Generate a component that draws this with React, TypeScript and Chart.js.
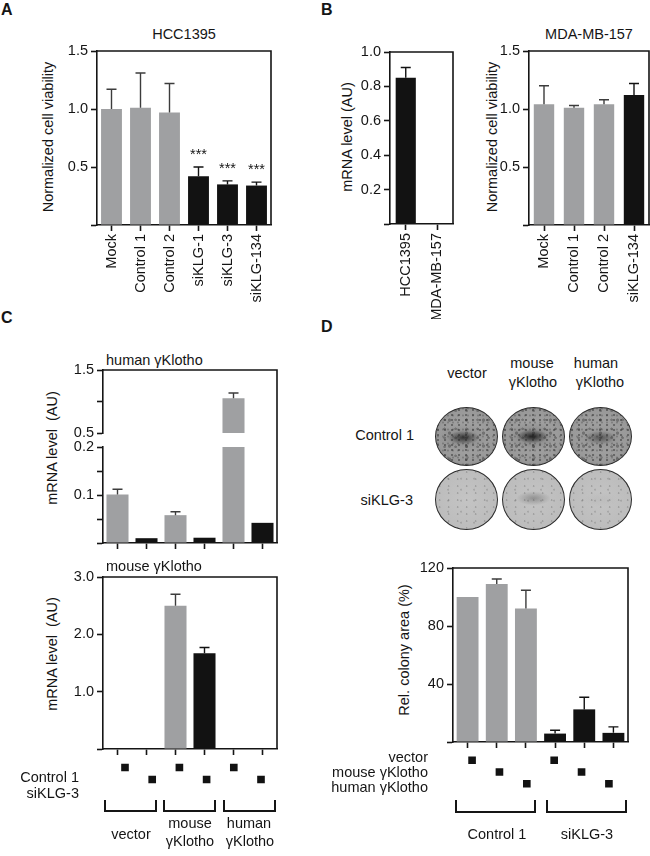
import React, { useEffect, useRef } from 'react';
import { Chart, registerables } from 'chart.js';

Chart.register(...registerables);

const FONT = "'Liberation Sans', Arial, Helvetica, sans-serif";
const FS = 14.5;
const GRAY = '#9fa0a2';
const BLACK = '#121212';
const INK = '#151515';
const ERR_GRAY = '#3c3c3c';

// ---------------- Panel A (HCC1395) ----------------
const aCategories = ['Mock', 'Control 1', 'Control 2', 'siKLG-1', 'siKLG-3', 'siKLG-134'];
const aValues = [1.0, 1.01, 0.97, 0.42, 0.35, 0.34];
const aErrors = [0.17, 0.3, 0.25, 0.08, 0.03, 0.03];
const aStars = ['', '', '', '***', '***', '***'];
const aColors = [GRAY, GRAY, GRAY, BLACK, BLACK, BLACK];
const viabilityTicks = [0, 0.5, 1.0, 1.5];
const viabilityLabels = [0.5, 1.0, 1.5];

// ---------------- Panel B left (mRNA) ----------------
const bCategories = ['HCC1395', 'MDA-MB-157'];
const bValues = [0.85, 0];
const bErrors = [0.06, 0];
const bColors = [BLACK, BLACK];
const mrnaTicks = [0, 0.2, 0.4, 0.6, 0.8, 1.0];
const mrnaLabels = [0.2, 0.4, 0.6, 0.8, 1.0];

// ---------------- Panel B right (MDA-MB-157) ----------------
const b2Categories = ['Mock', 'Control 1', 'Control 2', 'siKLG-134'];
const b2Values = [1.04, 1.01, 1.04, 1.12];
const b2Errors = [0.16, 0.02, 0.04, 0.1];
const b2Colors = [GRAY, GRAY, GRAY, BLACK];

// ---------------- Panel C ----------------
const cConditions = [
  'vector / Control 1', 'vector / siKLG-3',
  'mouse γKlotho / Control 1', 'mouse γKlotho / siKLG-3',
  'human γKlotho / Control 1', 'human γKlotho / siKLG-3',
];
const cColors = [GRAY, BLACK, GRAY, BLACK, GRAY, BLACK];
const cHumanValues = [0.101, 0.01, 0.058, 0.011, 1.05, 0.042];
const cHumanErrors = [0.011, 0, 0.007, 0, 0.085, 0];
const cHumanUpperTicks = [0.5, 1.0, 1.5];
const cHumanUpperLabels = [0.5, 1.5];
const cHumanLowerTicks = [0, 0.05, 0.1, 0.15, 0.2];
const cHumanLowerLabels = [0.1, 0.2];
const cMouseValues = [0, 0, 2.5, 1.67, 0, 0];
const cMouseErrors = [0, 0, 0.2, 0.1, 0, 0];
const cMouseTicks = [0, 1, 2, 3];
const cMouseLabels = [1, 2, 3];
const cRowControl1 = [1, 0, 1, 0, 1, 0];
const cRowSiKLG3 = [0, 1, 0, 1, 0, 1];

// ---------------- Panel D ----------------
const dConditions = [
  'Control 1 / vector', 'Control 1 / mouse γKlotho', 'Control 1 / human γKlotho',
  'siKLG-3 / vector', 'siKLG-3 / mouse γKlotho', 'siKLG-3 / human γKlotho',
];
const dColors = [GRAY, GRAY, GRAY, BLACK, BLACK, BLACK];
const dValues = [100, 109, 92, 5.8, 22.5, 6.3];
const dErrors = [0, 3.4, 12.7, 2.3, 8.4, 4.1];
const dTicks = [0, 40, 80, 120];
const dLabels = [40, 80, 120];
const dRowVector = [1, 0, 0, 1, 0, 0];
const dRowMouse = [0, 1, 0, 0, 1, 0];
const dRowHuman = [0, 0, 1, 0, 0, 1];

type BarSpec = {
  left: number; top: number; width: number; height: number;
  padL?: number; padT?: number; padR?: number; padB?: number;
  categories: string[]; values: number[]; errors?: number[]; colors: string[];
  yMin: number; yMax: number; tickValues: number[]; labeledTicks: number[]; decimals: number;
  showXLabels?: boolean; showXAxis?: boolean;
  frameTop?: boolean; frameRight?: boolean; rightExtend?: number;
  barPct: number; stars?: string[];
};

function BarChart(s: BarSpec) {
  const ref = useRef<HTMLCanvasElement | null>(null);
  const padL = s.padL ?? 45;
  const padT = s.padT ?? 12;
  const padR = s.padR ?? 6;
  const padB = s.padB ?? 12;
  const cw = Math.round(padL + s.width + padR);
  const ch = Math.round(padT + s.height + padB);

  useEffect(() => {
    const canvas = ref.current;
    if (!canvas) return;
    const decor = {
      id: 'decor',
      afterDatasetsDraw(chart: any) {
        const { ctx, chartArea } = chart;
        const y = chart.scales.y;
        const meta = chart.getDatasetMeta(0);
        const data = chart.data.datasets[0].data as number[];
        ctx.save();
        ctx.beginPath();
        ctx.rect(chartArea.left, chartArea.top - 2, chartArea.right - chartArea.left, chartArea.bottom - chartArea.top + 2);
        ctx.clip();
        if (s.errors) {
          meta.data.forEach((bar: any, i: number) => {
            const e = s.errors![i];
            if (!e) return;
            const v = data[i];
            const y0 = y.getPixelForValue(v);
            const y1 = y.getPixelForValue(v + e);
            ctx.strokeStyle = s.colors[i] === GRAY ? ERR_GRAY : BLACK;
            ctx.lineWidth = 1.4;
            ctx.beginPath();
            ctx.moveTo(bar.x, y0);
            ctx.lineTo(bar.x, y1);
            ctx.moveTo(bar.x - 5, y1);
            ctx.lineTo(bar.x + 5, y1);
            ctx.stroke();
          });
        }
        ctx.restore();
        if (s.stars) {
          ctx.save();
          ctx.font = `${FS}px ${FONT}`;
          ctx.fillStyle = INK;
          ctx.textAlign = 'center';
          ctx.textBaseline = 'alphabetic';
          meta.data.forEach((bar: any, i: number) => {
            const st = s.stars![i];
            if (!st) return;
            const top = data[i] + (s.errors ? s.errors[i] : 0);
            ctx.fillText(st, bar.x, y.getPixelForValue(top) - 8);
          });
          ctx.restore();
        }
      },
      afterDraw(chart: any) {
        const { ctx, chartArea } = chart;
        ctx.save();
        ctx.strokeStyle = INK;
        ctx.lineWidth = 1.6;
        ctx.beginPath();
        if (s.frameTop) {
          ctx.moveTo(chartArea.left - 0.8, chartArea.top);
          ctx.lineTo(chartArea.right + 0.8, chartArea.top);
        }
        if (s.frameRight) {
          ctx.moveTo(chartArea.right, chartArea.top);
          ctx.lineTo(chartArea.right, chartArea.bottom + (s.rightExtend ?? 0));
        }
        ctx.stroke();
        ctx.restore();
      },
    };
    const fmt = (v: number) => v.toFixed(s.decimals);
    const isLabeled = (v: number) => s.labeledTicks.some((t) => Math.abs(t - v) < 1e-9);
    const chart = new Chart(canvas, {
      type: 'bar',
      data: {
        labels: s.categories,
        datasets: [{
          data: s.values,
          backgroundColor: s.colors,
          borderWidth: 0,
          barPercentage: s.barPct,
          categoryPercentage: 1,
        }],
      },
      options: {
        animation: false,
        responsive: false,
        events: [],
        layout: { padding: { left: 0, top: padT, right: padR, bottom: 0 } },
        plugins: { legend: { display: false }, tooltip: { enabled: false }, title: { display: false } },
        scales: {
          x: {
            type: 'category',
            offset: true,
            afterFit: (sc: any) => { sc.height = padB; sc.paddingLeft = 0; sc.paddingRight = 0; },
            ticks: {
              display: !!s.showXLabels,
              minRotation: 90, maxRotation: 90,
              autoSkip: false,
              padding: 3,
              color: INK,
              font: { family: FONT, size: FS },
            },
            grid: {
              display: !!s.showXAxis,
              drawOnChartArea: false,
              offset: false,
              tickLength: 6,
              tickWidth: 1.6,
              tickColor: INK,
            },
            border: { display: !!s.showXAxis, color: INK, width: 1.6 },
          },
          y: {
            type: 'linear',
            min: s.yMin,
            max: s.yMax,
            afterBuildTicks: (sc: any) => { sc.ticks = s.tickValues.map((v) => ({ value: v })); },
            afterFit: (sc: any) => { sc.width = padL; sc.paddingTop = 0; sc.paddingBottom = 0; },
            ticks: {
              autoSkip: false,
              padding: 3,
              color: INK,
              font: { family: FONT, size: FS },
              callback: (v: any) => (isLabeled(Number(v)) ? fmt(Number(v)) : ''),
            },
            grid: {
              drawOnChartArea: false,
              tickLength: 6,
              tickWidth: 1.6,
              tickColor: INK,
            },
            border: { display: true, color: INK, width: 1.6 },
          },
        },
      },
      plugins: [decor],
    } as any);
    return () => chart.destroy();
  }, []);

  return (
    <canvas
      ref={ref}
      width={cw}
      height={ch}
      style={{ position: 'absolute', left: Math.round(s.left - padL), top: Math.round(s.top - padT), width: cw, height: ch }}
    />
  );
}

type MatrixSpec = { left: number; top: number; width: number; height: number; categories: string[]; rows: number[][] };

function DotMatrix(m: MatrixSpec) {
  const ref = useRef<HTMLCanvasElement | null>(null);
  useEffect(() => {
    const canvas = ref.current;
    if (!canvas) return;
    const points: { x: string; y: number }[] = [];
    m.rows.forEach((row, r) => row.forEach((v, i) => { if (v) points.push({ x: m.categories[i], y: r }); }));
    const chart = new Chart(canvas, {
      type: 'scatter',
      data: {
        labels: m.categories,
        datasets: [{
          data: points,
          pointStyle: 'rect',
          pointRadius: 5.4,
          pointHoverRadius: 5.4,
          backgroundColor: BLACK,
          borderWidth: 0,
        }],
      },
      options: {
        animation: false,
        responsive: false,
        events: [],
        layout: { padding: 0 },
        plugins: { legend: { display: false }, tooltip: { enabled: false } },
        scales: {
          x: { type: 'category', labels: m.categories, offset: true, display: false },
          y: { type: 'linear', min: -0.5, max: m.rows.length - 0.5, reverse: true, display: false },
        },
      },
    } as any);
    return () => chart.destroy();
  }, []);
  return (
    <canvas
      ref={ref}
      width={m.width}
      height={m.height}
      style={{ position: 'absolute', left: m.left, top: m.top, width: m.width, height: m.height }}
    />
  );
}

type LabelProps = { x: number; y: number; text: string; align?: 'left' | 'center' | 'right'; size?: number; bold?: boolean; rotate?: boolean };

function Label({ x, y, text, align = 'center', size = FS, bold = false, rotate = false }: LabelProps) {
  const tx = align === 'center' ? '-50%' : align === 'right' ? '-100%' : '0';
  return (
    <div
      style={{
        position: 'absolute', left: x, top: y,
        transform: `translate(${rotate ? '-50%' : tx}, -50%)${rotate ? ' rotate(-90deg)' : ''}`,
        fontFamily: FONT, fontSize: size, fontWeight: bold ? 'bold' : 'normal',
        lineHeight: 1, whiteSpace: 'pre', color: INK,
      }}
    >
      {text}
    </div>
  );
}

function Bracket({ x1, x2, y1, y2 }: { x1: number; x2: number; y1: number; y2: number }) {
  return (
    <div
      style={{
        position: 'absolute', left: x1, top: y1, width: x2 - x1, height: y2 - y1,
        borderLeft: `2px solid ${INK}`, borderRight: `2px solid ${INK}`, borderBottom: `2px solid ${INK}`,
        boxSizing: 'border-box',
      }}
    />
  );
}

function plateBackground(dark: boolean, blobX: number, blobY: number, blob: number): string {
  if (dark) {
    return [
      `radial-gradient(ellipse 26% 12% at ${blobX}% ${blobY}%, rgba(20,20,20,${blob}), rgba(20,20,20,0))`,
      `radial-gradient(ellipse 40% 25% at ${blobX}% ${blobY}%, rgba(50,50,50,${blob * 0.4}), rgba(50,50,50,0))`,
      'radial-gradient(circle at 30% 40%, rgba(40,40,40,0.45) 0 0.9px, rgba(40,40,40,0) 1.5px) 0 0/7px 5px',
      'radial-gradient(circle at 60% 20%, rgba(45,45,45,0.35) 0 1px, rgba(45,45,45,0) 1.6px) 2px 1px/11px 9px',
      'radial-gradient(circle at 50% 70%, rgba(40,40,40,0.35) 0 1.3px, rgba(40,40,40,0) 2px) 5px 3px/17px 13px',
      'radial-gradient(circle at 20% 50%, rgba(60,60,60,0.3) 0 0.8px, rgba(60,60,60,0) 1.3px) 1px 4px/5px 7px',
      'radial-gradient(ellipse at 50% 50%, #a6a6a6 0%, #999999 65%, #6e6e6e 100%)',
    ].join(', ');
  }
  return [
    `radial-gradient(ellipse 28% 12% at ${blobX}% ${blobY}%, rgba(50,50,50,${blob}), rgba(50,50,50,0))`,
    'radial-gradient(circle at 40% 30%, rgba(90,90,90,0.3) 0 0.7px, rgba(90,90,90,0) 1.2px) 0 0/9px 7px',
    'radial-gradient(circle at 70% 60%, rgba(90,90,90,0.25) 0 0.8px, rgba(90,90,90,0) 1.3px) 3px 2px/13px 11px',
    'radial-gradient(ellipse at 50% 50%, #c4c4c4 0%, #bcbcbc 75%, #a2a2a2 100%)',
  ].join(', ');
}

function Plate({ x, y, w, h, dark, blobX, blobY, blob }: { x: number; y: number; w: number; h: number; dark: boolean; blobX: number; blobY: number; blob: number }) {
  return (
    <div
      style={{
        position: 'absolute', left: x, top: y, width: w, height: h, borderRadius: '50%',
        border: '1px solid #2c2c2c', boxSizing: 'border-box',
        background: plateBackground(dark, blobX, blobY, blob),
      }}
    />
  );
}

export default function App() {
  return (
    <div style={{ position: 'absolute', left: 0, top: 0, width: 650, height: 856, overflow: 'hidden', background: '#ffffff' }}>
      {/* panel letters */}
      <Label x={1} y={10} text="A" align="left" bold size={16} />
      <Label x={321} y={10} text="B" align="left" bold size={16} />
      <Label x={1} y={318} text="C" align="left" bold size={16} />
      <Label x={321} y={327} text="D" align="left" bold size={16} />

      {/* Panel A */}
      <Label x={184} y={34} text="HCC1395" />
      <Label x={48} y={137} text="Normalized cell viability" rotate />
      <BarChart
        left={97} top={51} width={174} height={174} padB={90}
        categories={aCategories} values={aValues} errors={aErrors} colors={aColors} stars={aStars}
        yMin={0} yMax={1.5} tickValues={viabilityTicks} labeledTicks={viabilityLabels} decimals={1}
        showXLabels showXAxis frameTop frameRight barPct={0.72}
      />

      {/* Panel B left */}
      <Label x={347} y={137} text="mRNA level (AU)" rotate />
      <BarChart
        left={390} top={52} width={63} height={172} padB={95}
        categories={bCategories} values={bValues} errors={bErrors} colors={bColors}
        yMin={0} yMax={1.0} tickValues={mrnaTicks} labeledTicks={mrnaLabels} decimals={1}
        showXLabels showXAxis frameTop frameRight barPct={0.64}
      />

      {/* Panel B right */}
      <Label x={589} y={34} text="MDA-MB-157" />
      <Label x={492} y={137} text="Normalized cell viability" rotate />
      <BarChart
        left={529} top={51} width={120} height={174} padB={90} padR={3}
        categories={b2Categories} values={b2Values} errors={b2Errors} colors={b2Colors}
        yMin={0} yMax={1.5} tickValues={viabilityTicks} labeledTicks={viabilityLabels} decimals={1}
        showXLabels showXAxis frameTop frameRight barPct={0.68}
      />

      {/* Panel C, human */}
      <Label x={106} y={360} text="human γKlotho" align="left" />
      <Label x={52} y={448} text="mRNA level  (AU)" rotate />
      <BarChart
        left={103} top={370} width={174} height={63} padB={14}
        categories={cConditions} values={cHumanValues} errors={cHumanErrors} colors={cColors}
        yMin={0.5} yMax={1.5} tickValues={cHumanUpperTicks} labeledTicks={cHumanUpperLabels} decimals={1}
        frameTop frameRight rightExtend={14} barPct={0.76}
      />
      <BarChart
        left={103} top={447} width={174} height={96} padT={10} padB={12}
        categories={cConditions} values={cHumanValues} errors={cHumanErrors} colors={cColors}
        yMin={0} yMax={0.2} tickValues={cHumanLowerTicks} labeledTicks={cHumanLowerLabels} decimals={1}
        showXAxis frameRight barPct={0.76}
      />

      {/* Panel C, mouse */}
      <Label x={106} y={566} text="mouse γKlotho" align="left" />
      <Label x={52} y={654} text="mRNA level  (AU)" rotate />
      <BarChart
        left={103} top={577} width={174} height={172} padB={10}
        categories={cConditions} values={cMouseValues} errors={cMouseErrors} colors={cColors}
        yMin={0} yMax={3} tickValues={cMouseTicks} labeledTicks={cMouseLabels} decimals={1}
        showXAxis frameTop frameRight barPct={0.76}
      />
      <DotMatrix left={106} top={756} width={174} height={35} categories={cConditions} rows={[cRowControl1, cRowSiKLG3]} />
      <Label x={79} y={777} text="Control 1" align="right" />
      <Label x={79} y={793} text="siKLG-3" align="right" />
      <Bracket x1={104} x2={157} y1={800} y2={812} />
      <Bracket x1={163} x2={216} y1={800} y2={812} />
      <Bracket x1={223} x2={276} y1={800} y2={812} />
      <Label x={131} y={834} text="vector" />
      <Label x={190} y={823} text="mouse" />
      <Label x={190} y={841} text="γKlotho" />
      <Label x={249} y={823} text="human" />
      <Label x={250} y={841} text="γKlotho" />

      {/* Panel D plates */}
      <Label x={467} y={373} text="vector" />
      <Label x={532} y={363} text="mouse" />
      <Label x={533} y={382} text="γKlotho" />
      <Label x={596} y={363} text="human" />
      <Label x={600} y={382} text="γKlotho" />
      <Label x={414} y={435} text="Control 1" align="right" />
      <Label x={413} y={500} text="siKLG-3" align="right" />
      <Plate x={435} y={407} w={63} h={59} dark blobX={45} blobY={52} blob={0.7} />
      <Plate x={502} y={407} w={63} h={59} dark blobX={48} blobY={50} blob={0.85} />
      <Plate x={569} y={407} w={63} h={59} dark blobX={50} blobY={52} blob={0.45} />
      <Plate x={435} y={469} w={63} h={61} dark={false} blobX={50} blobY={50} blob={0} />
      <Plate x={502} y={469} w={63} h={61} dark={false} blobX={50} blobY={48} blob={0.35} />
      <Plate x={569} y={469} w={63} h={61} dark={false} blobX={50} blobY={50} blob={0.05} />

      {/* Panel D chart */}
      <Label x={404} y={650} text="Rel. colony area (%)" rotate />
      <BarChart
        left={453} top={568} width={175} height={174} padB={10}
        categories={dConditions} values={dValues} errors={dErrors} colors={dColors}
        yMin={0} yMax={120} tickValues={dTicks} labeledTicks={dLabels} decimals={0}
        showXAxis frameTop frameRight barPct={0.75}
      />
      <DotMatrix left={453} top={749} width={175} height={46} categories={dConditions} rows={[dRowVector, dRowMouse, dRowHuman]} />
      <Label x={428} y={757} text="vector" align="right" />
      <Label x={428} y={772} text="mouse γKlotho" align="right" />
      <Label x={428} y={787} text="human γKlotho" align="right" />
      <Bracket x1={455} x2={536} y1={800} y2={813} />
      <Bracket x1={546} x2={627} y1={800} y2={813} />
      <Label x={497} y={834} text="Control 1" />
      <Label x={587} y={834} text="siKLG-3" />
    </div>
  );
}
